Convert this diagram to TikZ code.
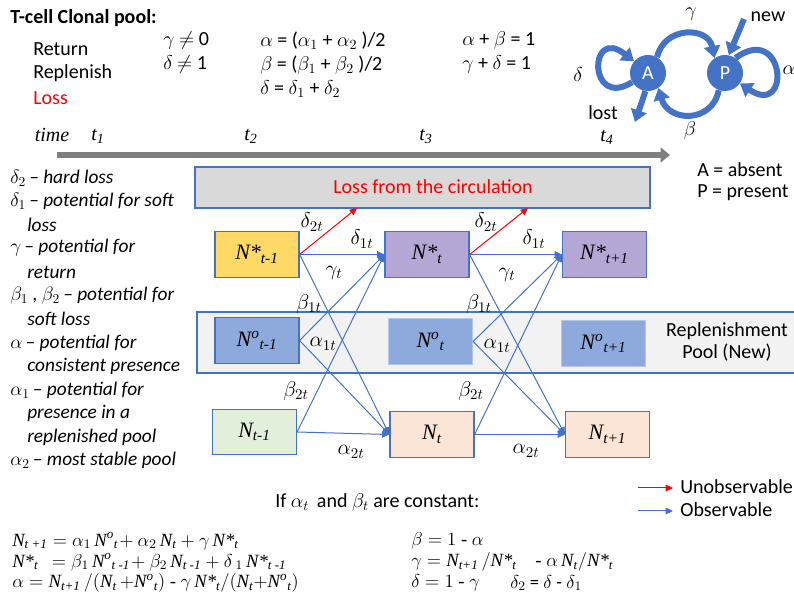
\documentclass[tikz,border=0pt]{standalone}
\usepackage{fix-cm}
\usepackage{amsmath}
\usepackage{fontspec}
\setmainfont{Carlito}
\newfontfamily\tms{Liberation Serif}
\usetikzlibrary{arrows.meta}
\definecolor{cblue}{HTML}{4472C4}
\definecolor{gold}{HTML}{FFD966}
\definecolor{purp}{HTML}{B4A7D6}
\definecolor{pblue}{HTML}{8EA9DB}
\definecolor{pbluel}{HTML}{B4C7E7}
\definecolor{lgreen}{HTML}{E2EFDA}
\definecolor{peach}{HTML}{FBE5D6}
\definecolor{lossgray}{HTML}{D9D9D9}
\definecolor{poolgray}{HTML}{F2F2F2}
\definecolor{tlgray}{HTML}{7F7F7F}
\newcommand\ti[1]{\text{\tms\itshape #1}}
\newcommand\fs[1]{\fontsize{#1}{#1}\selectfont}
\begin{document}
\begin{tikzpicture}[x=0.75pt,y=-0.75pt,
  txt/.style={inner sep=0pt, font=\fs{15}},
  ltxt/.style={inner sep=0pt, anchor=west, font=\fs{14.5}\itshape},
  nbox/.style={draw=cblue, line width=0.9pt, minimum width=63pt, minimum height=34pt, inner sep=0pt, font=\fs{16.5}},
  elbl/.style={inner sep=0pt, font=\fs{16}},
  eqn/.style={inner sep=0pt, anchor=west, font=\fs{14}},
  obs/.style={draw=cblue, line width=0.75pt, -{Triangle[length=5.5pt,width=5pt]}},
  unobs/.style={draw=red, line width=0.75pt, -{Triangle[length=5.5pt,width=5pt]}},
  sarr/.style={draw=cblue, line width=4.5pt, -{Triangle[length=9pt,width=12pt]}},
  snode/.style={circle, fill=cblue, minimum size=27pt, inner sep=0pt, text=white, font=\fs{15}},
]
\useasboundingbox (0,0) rectangle (794,599);

% header
\node[txt, anchor=west, font=\fs{15}\bfseries] (title) at (10,18) {T-cell Clonal pool:};
\node[txt, anchor=west] (ret) at (33,49) {Return};
\node[txt, anchor=west] (rep) at (33,73) {Replenish};
\node[txt, anchor=west, text=red] (los) at (33,98) {Loss};
\node[txt, anchor=west] (f1) at (163,41) {$\gamma$ $\neq$ 0};
\node[txt, anchor=west] (f2) at (163,65) {$\delta$ $\neq$ 1};
\node[txt, anchor=west] (f3) at (260,41) {$\alpha$ = ($\alpha_1$ + $\alpha_2$ )/2};
\node[txt, anchor=west] (f4) at (260,65) {$\beta$ = ($\beta_1$ + $\beta_2$ )/2};
\node[txt, anchor=west] (f5) at (260,89) {$\delta$ = $\delta_1$ + $\delta_2$};
\node[txt, anchor=west] (f6) at (462,41) {$\alpha$ + $\beta$ = 1};
\node[txt, anchor=west] (f7) at (462,65) {$\gamma$ + $\delta$ = 1};

% time axis
\node[txt] (time) at (52,135) {\tms\itshape time};
\node[txt] (t1) at (98,136) {$\ti{t}_{\ti{1}}$};
\node[txt] (t2) at (251,136) {$\ti{t}_{\ti{2}}$};
\node[txt] (t3) at (426,136) {$\ti{t}_{\ti{3}}$};
\node[txt] (t4) at (607,137) {$\ti{t}_{\ti{4}}$};
\coordinate (ts) at (57,155);
\coordinate (te) at (670,155);
\draw[tlgray, line width=5.2pt, -{Triangle[length=7pt,width=11pt]}] (ts) -- (te);

% left legend list
\node[ltxt] (d2) at (10,178) {$\delta_2$\,– hard loss};
\node[ltxt] (d1) at (10,201) {$\delta_1$\,– potential for soft};
\node[ltxt] (d1b) at (27,225) {loss};
\node[ltxt] (g) at (10,248) {$\gamma$\,– potential for};
\node[ltxt] (gb) at (27,272) {return};
\node[ltxt] (b) at (10,296) {$\beta_1$ , $\beta_2$\,– potential for};
\node[ltxt] (bb) at (27,319) {soft loss};
\node[ltxt] (a) at (10,343) {$\alpha$\,– potential for};
\node[ltxt] (ab) at (27,366) {consistent presence};
\node[ltxt] (a1) at (10,390) {$\alpha_1$\,– potential for};
\node[ltxt] (a1b) at (27,413) {presence in a};
\node[ltxt] (a1c) at (27,437) {replenished pool};
\node[ltxt] (a2) at (10,460) {$\alpha_2$\,– most stable pool};

% loss box and pool
\node[draw=cblue, fill=lossgray, line width=0.9pt, minimum width=341.25pt, minimum height=30.75pt, inner sep=0pt] (loss) at (422.5,187.5) {};
\node[txt, text=red] (losstxt) at (433,187) {Loss from the circulation};
\coordinate (l1) at (357,208);
\coordinate (l2) at (528,208);
\node[draw=cblue, fill=poolgray, line width=1pt, minimum width=452.25pt, minimum height=45.75pt, inner sep=0pt] (pool) at (498.5,342.5) {};
\node[txt, align=center, font=\fontsize{15}{16.5}\selectfont] (pooltxt) at (727,342) {Replenishment\\Pool (New)};

% state boxes
\node[nbox, fill=gold] (s1) at (257,254.5) {$\ti{N*}_{\ti{t-1}}$};
\node[nbox, fill=purp] (s2) at (427,254.5) {$\ti{N*}_{\ti{t}}$};
\node[nbox, fill=purp] (s3) at (604.5,254.5) {$\ti{N*}_{\ti{t+1}}$};
\node[nbox, fill=pblue] (o1) at (257,340.5) {$\ti{N}^{\ti{o}}{}_{\ti{t-1}}$};
\node[nbox, fill=pblue, draw=pbluel] (o2) at (430.5,341.5) {$\ti{N}^{\ti{o}}{}_{\ti{t}}$};
\node[nbox, fill=pblue, draw=pbluel] (o3) at (603.5,343.5) {$\ti{N}^{\ti{o}}{}_{\ti{t+1}}$};
\node[nbox, fill=lgreen] (n1) at (254.5,432) {$\ti{N}_{\ti{t-1}}$};
\node[nbox, fill=peach] (n2) at (432,434.5) {$\ti{N}_{\ti{t}}$};
\node[nbox, fill=peach] (n3) at (607.5,434.5) {$\ti{N}_{\ti{t+1}}$};

% connectors stage 1
\draw[unobs] (s1.east) -- (l1);
\draw[obs] (s1.east) -- (s2.west);
\draw[obs] (s1.east) -- (n2.west);
\draw[obs] (o1.east) -- (s2.west);
\draw[obs] (o1.east) -- (n2.west);
\draw[obs] (n1.east) -- (s2.west);
\draw[obs] (n1.east) -- (n2.west);
% connectors stage 2
\draw[unobs] (s2.east) -- (l2);
\draw[obs] (s2.east) -- (s3.west);
\draw[obs] (s2.east) -- (n3.west);
\draw[obs] (o2.east) -- (s3.west);
\draw[obs] (o2.east) -- (n3.west);
\draw[obs] (n2.east) -- (s3.west);
\draw[obs] (n2.east) -- (n3.west);

% edge labels
\node[elbl] (e1) at (312,222) {$\delta_{2t}$};
\node[elbl] (e2) at (362,239) {$\delta_{1t}$};
\node[elbl] (e3) at (334,273) {$\gamma_t$};
\node[elbl] (e4) at (309,304) {$\beta_{1t}$};
\node[elbl] (e5) at (323,344) {$\alpha_{1t}$};
\node[elbl] (e6) at (296,391) {$\beta_{2t}$};
\node[elbl] (e7) at (351,452) {$\alpha_{2t}$};
\node[elbl] (f1e) at (486,222) {$\delta_{2t}$};
\node[elbl] (f2e) at (534,239) {$\delta_{1t}$};
\node[elbl] (f3e) at (507,275) {$\gamma_t$};
\node[elbl] (f4e) at (479,304) {$\beta_{1t}$};
\node[elbl] (f5e) at (497,346) {$\alpha_{1t}$};
\node[elbl] (f6e) at (471,391) {$\beta_{2t}$};
\node[elbl] (f7e) at (526,451) {$\alpha_{2t}$};

% right legend
\node[txt, anchor=west] (absent) at (697,170) {A = absent};
\node[txt, anchor=west] (present) at (697,193) {P = present};
\coordinate (lr1) at (638,488);
\coordinate (lr2) at (673,488);
\coordinate (lb1) at (638,511);
\coordinate (lb2) at (673,511);
\draw[unobs] (lr1) -- (lr2);
\draw[obs] (lb1) -- (lb2);
\node[txt, anchor=west] (unob) at (680,487) {Unobservable};
\node[txt, anchor=west] (ob) at (680,510) {Observable};

% state diagram
\node[snode] (A) at (648,73) {A};
\node[snode] (P) at (725,73) {P};
\draw[sarr] (A.60) .. controls (664,26) and (708,26) .. (P.125);
\draw[sarr] (P.-110) .. controls (712,124) and (668,122) .. (A.-55);
\draw[sarr] (A.210) .. controls (588,110) and (588,25) .. (A.140);
\draw[sarr] (P.55) .. controls (785,22) and (792,118) .. (P.-35);
\coordinate (newS) at (744,19);
\coordinate (lostE) at (635,122);
\draw[sarr] (newS) -- (P.78);
\draw[sarr] (A.262) -- (lostE);
\node[txt] (gam) at (691,14) {$\gamma$};
\node[txt] (new) at (768,17) {new};
\node[txt] (del) at (578,75) {$\delta$};
\node[txt] (alp) at (789,70) {$\alpha$};
\node[txt] (lost) at (603,113) {lost};
\node[txt] (bet) at (690,131) {$\beta$};

% bottom text
\node[txt, anchor=west] (cond) at (275,503) {If $\alpha_t$\, and $\beta_t$ are constant:};
\node[eqn] (q1) at (12,541) {$\ti{N}_{\ti{t +1}} = \alpha_1\,\ti{N}^{\ti{o}}{}_{\ti{t}}\!+ \alpha_2\,\ti{N}_{\ti{t}} + \gamma\,\ti{N*}_{\ti{t}}$};
\node[eqn] (q2) at (12,562) {$\ti{N*}_{\ti{t}}\;\, = \beta_1\,\ti{N}^{\ti{o}}{}_{\ti{t -1}}\!+ \beta_2\,\ti{N}_{\ti{t -1}} + \delta_{\;1}\,\ti{N*}_{\ti{t -1}}$};
\node[eqn] (q3) at (12,583) {$\alpha = \ti{N}_{\ti{t+1}}\,/(\ti{N}_{\ti{t}}\,{+}\ti{N}^{\ti{o}}{}_{\ti{t}})\text{\tms\ -\ }\gamma\,\ti{N*}_{\ti{t}}/(\ti{N}_{\ti{t}}{+}\ti{N}^{\ti{o}}{}_{\ti{t}})$};
\node[eqn] (r1) at (411,541) {$\beta = 1\text{\tms\ -\ }\alpha$};
\node[eqn] (r2) at (411,562) {$\gamma = \ti{N}_{\ti{t+1}}\,/\ti{N*}_{\ti{t}}\quad\text{\tms -\ }\alpha\,\ti{N}_{\ti{t}}/\ti{N*}_{\ti{t}}$};
\node[eqn] (r3) at (411,583) {$\delta = 1\text{\tms\ -\ }\gamma$};
\node[eqn] (r4) at (510,583) {$\delta_2$ = $\delta$ - $\delta_1$};
\end{tikzpicture}
\end{document}
